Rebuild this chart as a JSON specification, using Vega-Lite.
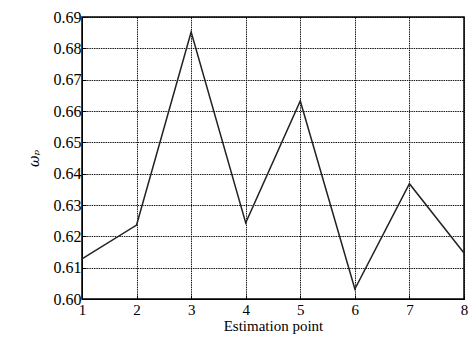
{
  "$schema": "https://vega.github.io/schema/vega-lite/v6.json",
  "width": 382,
  "height": 282,
  "autosize": {"type": "none"},
  "padding": {"left": 82, "top": 17, "right": 6, "bottom": 39},
  "background": "white",
  "config": {
    "view": {"stroke": "black", "strokeWidth": 1.5}
  },
  "data": {
    "values": [
      {"point": 1, "w": 0.6128},
      {"point": 2, "w": 0.6236},
      {"point": 3, "w": 0.6852},
      {"point": 4, "w": 0.6243},
      {"point": 5, "w": 0.6632},
      {"point": 6, "w": 0.6032},
      {"point": 7, "w": 0.6368},
      {"point": 8, "w": 0.6147}
    ]
  },
  "mark": {"type": "line", "color": "#222222", "strokeWidth": 1.5},
  "encoding": {
    "x": {
      "field": "point",
      "type": "quantitative",
      "scale": {"domain": [1, 8], "nice": false, "zero": false},
      "axis": {
        "title": "Estimation point",
        "values": [1, 2, 3, 4, 5, 6, 7, 8],
        "format": "d",
        "titleFont": "Liberation Serif",
        "titleFontSize": 15,
        "titleFontWeight": "normal",
        "titleColor": "black",
        "titlePadding": 1,
        "labelFont": "Liberation Serif",
        "labelFontSize": 15,
        "labelColor": "black",
        "labelPadding": 7,
        "labelFlush": false,
        "tickSize": -4,
        "tickColor": "black",
        "domainColor": "black",
        "grid": true,
        "gridColor": "black",
        "gridDash": [1.5, 0.8],
        "gridOpacity": 0.9,
        "gridWidth": 1
      }
    },
    "y": {
      "field": "w",
      "type": "quantitative",
      "scale": {"domain": [0.6, 0.69], "nice": false, "zero": false},
      "axis": {
        "title": "ωₚ",
        "values": [0.6, 0.61, 0.62, 0.63, 0.64, 0.65, 0.66, 0.67, 0.68, 0.69],
        "format": ".2f",
        "titleFont": "DejaVu Serif",
        "titleFontStyle": "italic",
        "titleFontSize": 14,
        "titleFontWeight": "normal",
        "titleColor": "black",
        "titlePadding": 12,
        "labelFont": "Liberation Serif",
        "labelFontSize": 16,
        "labelColor": "black",
        "labelPadding": 5,
        "labelFlush": false,
        "tickSize": -4,
        "tickColor": "black",
        "domainColor": "black",
        "grid": true,
        "gridColor": "black",
        "gridDash": [1.5, 0.8],
        "gridOpacity": 0.9,
        "gridWidth": 1
      }
    }
  }
}
